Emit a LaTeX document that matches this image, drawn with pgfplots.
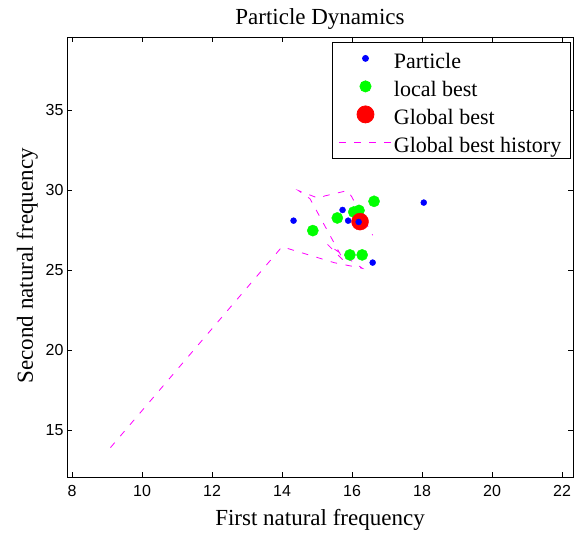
\documentclass[border=0pt]{standalone}
\usepackage{fontspec}
\setmainfont{Liberation Serif}
\newfontfamily\arial{Liberation Sans}
\usepackage{pgfplots}
\pgfplotsset{compat=1.18}
\definecolor{mgreen}{rgb}{0,1,0}
\definecolor{mmag}{rgb}{1,0,1}
\definecolor{mblue}{rgb}{0,0,1}
\definecolor{mred}{rgb}{1,0,0}
\begin{document}
\begin{tikzpicture}
\useasboundingbox (0,0) rectangle (581pt,534pt);
\begin{axis}[
  at={(67pt,57pt)}, anchor=south west,
  scale only axis, width=506pt, height=440pt,
  xmin=7.857, xmax=22.314, ymin=12.06, ymax=39.56,
  xtick={8,10,...,22}, ytick={15,20,...,35},
  tick align=inside, major tick length=5pt,
  axis line style={line width=0.9pt},
  every tick/.style={black, line width=0.8pt},
  /pgf/number format/assume math mode=true,
  tick label style={font=\arial\fontsize{16}{16}\selectfont},
  xticklabel style={anchor=base, yshift=-20pt},
  yticklabel style={anchor=east, xshift=0pt},
  title={Particle Dynamics},
  title style={at={(axis description cs:0.5,1)}, anchor=base, yshift=6pt, font=\fontsize{23}{23}\selectfont},
  xlabel={First natural frequency},
  xlabel style={at={(axis description cs:0.5,0)}, anchor=base, yshift=-49pt, font=\fontsize{23}{23}\selectfont},
  ylabel={Second natural frequency},
  ylabel style={at={(axis description cs:-0.0672,0.48)}, anchor=base, font=\fontsize{23}{23}\selectfont},
  legend image code/.code={\draw[mark repeat=2,mark phase=2,#1] plot coordinates {(0pt,0pt) (26pt,0pt) (52pt,0pt)};},
  legend style={at={(axis description cs:0.9955,0.9886)}, anchor=north east,
    draw=black, line width=0.8pt, font=\fontsize{22}{22}\selectfont,
    inner xsep=7pt, inner ysep=3pt, row sep=2pt,
    nodes={inner sep=2pt, text height=21pt, text depth=1pt},
    /tikz/every even column/.append style={column sep=1pt}},
  legend cell align=left,
]
\addplot[only marks, mark=*, mark size=5.6pt, color=mgreen, forget plot] coordinates {
(14.88,27.46) (15.58,28.25) (16.05,28.62) (16.2,28.72) (16.63,29.29) (15.94,25.94) (16.29,25.94)};
\addplot[only marks, mark=*, mark size=8.5pt, color=mred, forget plot] coordinates {(16.23,28.02)};
\addplot[mmag, dash pattern=on 6.5pt off 8.5pt, line width=0.8pt, forget plot] coordinates {
(9.1,13.9) (14.0,26.45) (15.5,25.45) (16.3,25.1) (15.8,25.85) (15.3,26.6) (15.77,25.56)
(14.8,29.45) (14.47,29.96) (15.04,29.48) (15.23,29.63) (15.87,29.96) (15.99,29.58) (16.59,27.17)};
\addplot[only marks, mark=*, mark size=3pt, color=mblue, forget plot] coordinates {
(14.33,28.08) (15.73,28.75) (15.89,28.08) (16.19,28.0) (18.05,29.21) (16.59,25.46)};
\addlegendimage{only marks, mark=*, mark size=3pt, color=mblue}
\addlegendimage{only marks, mark=*, mark size=5.6pt, color=mgreen}
\addlegendimage{only marks, mark=*, mark size=8.5pt, color=mred}
\addlegendimage{mmag, dash pattern=on 6.5pt off 8.5pt, line width=0.8pt}
\legend{Particle, local best, Global best, Global best history}
\end{axis}
\end{tikzpicture}
\end{document}
